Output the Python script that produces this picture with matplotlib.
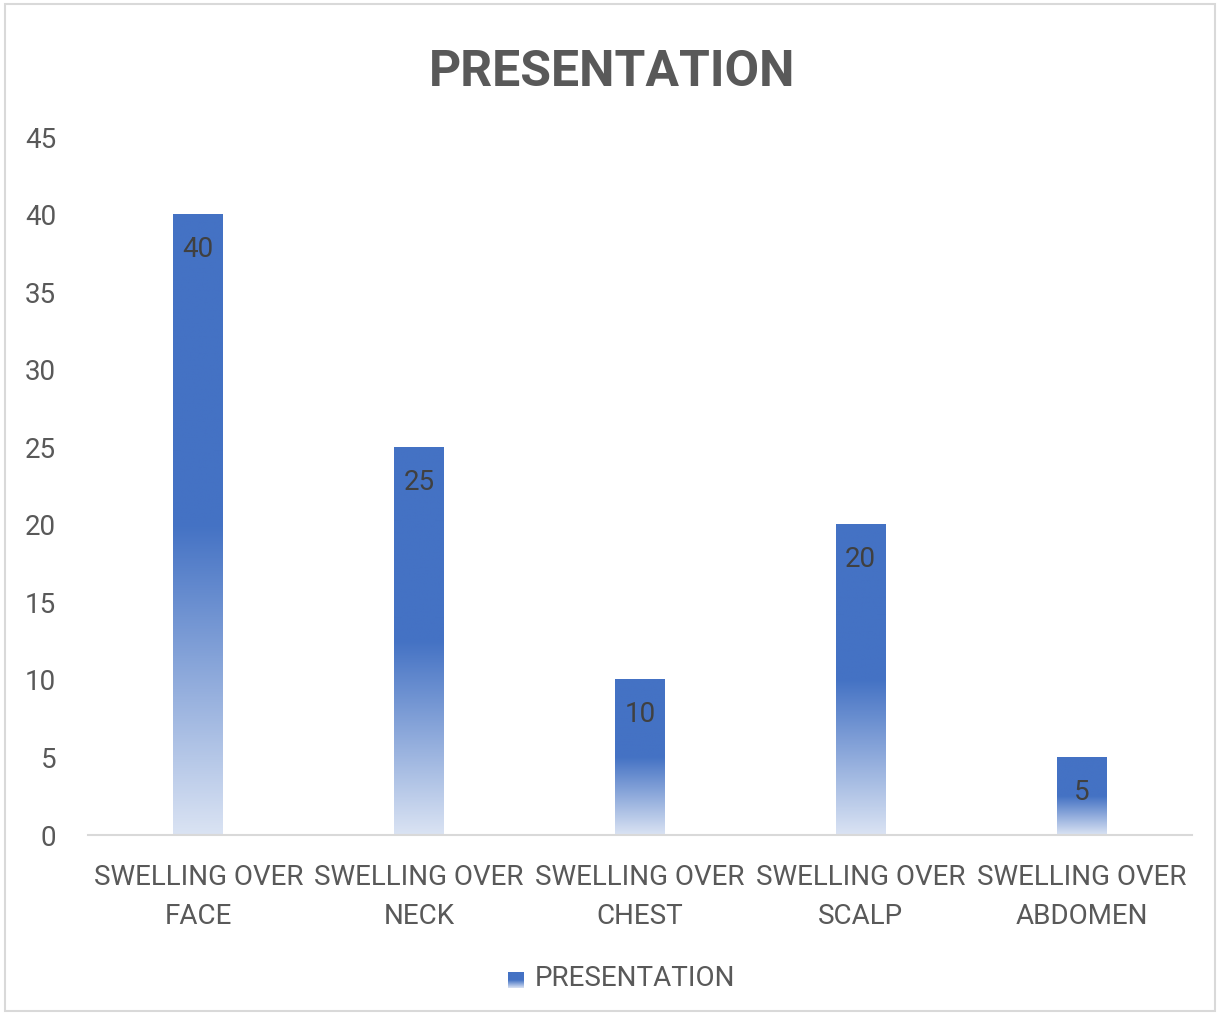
import numpy as np
import matplotlib.pyplot as plt
from matplotlib.patches import Rectangle
from matplotlib.colors import LinearSegmentedColormap

# data
categories = ["SWELLING OVER\nFACE", "SWELLING OVER\nNECK", "SWELLING OVER\nCHEST",
              "SWELLING OVER\nSCALP", "SWELLING OVER\nABDOMEN"]
values = [40, 25, 10, 20, 5]
series_name = "PRESENTATION"
y_ticks = [0, 5, 10, 15, 20, 25, 30, 35, 40, 45]

BLUE = "#4472C4"
LIGHT = "#DAE3F3"
TXT = "#595959"
GRID = "#D9D9D9"
FONT = ["Roboto", "DejaVu Sans"]

plt.rcParams["font.family"] = FONT

fig = plt.figure(figsize=(12.2, 10.15), dpi=100)
ax = fig.add_axes([0.0721, 0.1773, 0.977 - 0.0721, 0.865 - 0.1773])

# gradient: light at bottom, solid blue from ~half the bar upward
cmap = LinearSegmentedColormap.from_list("grad", [(0, LIGHT), (0.5, BLUE), (1, BLUE)])
grad = np.linspace(0, 1, 256).reshape(-1, 1)

x = np.arange(len(categories))
width = 0.226
for xi, v in zip(x, values):
    ax.imshow(grad, cmap=cmap, aspect="auto", origin="lower",
              extent=(xi - width / 2, xi + width / 2, 0, v), zorder=2)
    ax.text(xi, v - 2.25, str(v), ha="center", va="center", fontsize=20, color="#404040", zorder=3)

ax.set_xlim(-0.5, len(categories) - 0.5)
ax.set_ylim(0, 45)
ax.set_yticks(y_ticks)
ax.set_xticks(x)
ax.set_xticklabels(categories, fontsize=20, color=TXT, linespacing=1.55)
ax.tick_params(axis="y", labelsize=20, labelcolor=TXT, length=0, pad=23)
ax.tick_params(axis="x", length=0, pad=21)
for s in ["top", "right", "left"]:
    ax.spines[s].set_visible(False)
ax.spines["bottom"].set_color(GRID)
ax.spines["bottom"].set_linewidth(1.5)

fig.text(0.502, 0.929, "PRESENTATION", ha="center", va="center", fontsize=36,
         fontweight="bold", color=TXT)

# legend: small gradient square + label
lax = fig.add_axes([508 / 1220, 1 - 988 / 1015, 16 / 1220, 16 / 1015])
lax.imshow(grad, cmap=cmap, aspect="auto", origin="lower", extent=(0, 1, 0, 1))
lax.set_axis_off()
fig.text(535 / 1220, 1 - 978 / 1015, series_name, ha="left", va="center", fontsize=20, color=TXT)

fig.add_artist(Rectangle((0.004, 0.004), 0.992, 0.992, transform=fig.transFigure,
                         fill=False, edgecolor=GRID, linewidth=1.5))

fig.savefig("out.png", dpi=100)
